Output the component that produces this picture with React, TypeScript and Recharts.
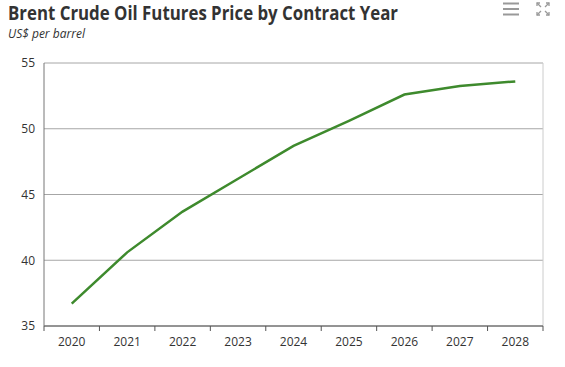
import React from 'react';
import { LineChart, Line, XAxis, YAxis, CartesianGrid } from 'recharts';

const years = ['2020', '2021', '2022', '2023', '2024', '2025', '2026', '2027', '2028'];
const prices = [36.7, 40.6, 43.7, 46.2, 48.7, 50.6, 52.6, 53.25, 53.6];
const yTicks = [35, 40, 45, 50, 55];

const data = years.map((y, i) => ({ year: y, price: prices[i] }));

const FONT = "'Open Sans', 'Noto Sans', sans-serif";
const CHART_W = 565;
const CHART_H = 367;
const MARGIN = { top: 63, right: 22, left: 0, bottom: 0 };
const Y_AXIS_W = 44;
const PLOT_W = CHART_W - MARGIN.left - MARGIN.right - Y_AXIS_W;
const TICK_LEN = 5;
const TICK_GAP = 6;

const XTick = (props: any) => {
  const { x, y, payload, index } = props;
  const bw = PLOT_W / years.length;
  const axisY = y - TICK_LEN - TICK_GAP;
  const isLast = index === years.length - 1;
  return (
    <g>
      <line x1={x - bw / 2} y1={axisY} x2={x - bw / 2} y2={axisY + TICK_LEN} stroke="#555" strokeWidth={1} />
      {isLast && (
        <line x1={x + bw / 2} y1={axisY} x2={x + bw / 2} y2={axisY + TICK_LEN} stroke="#555" strokeWidth={1} />
      )}
      <text x={x} y={y} dy="0.71em" textAnchor="middle" fill="#333" fontSize={12} fontFamily={FONT}>
        {payload.value}
      </text>
    </g>
  );
};

export default function App() {
  return (
    <div style={{ position: 'absolute', left: 0, top: 0, width: CHART_W, height: CHART_H, background: '#fff' }}>
      <LineChart width={CHART_W} height={CHART_H} data={data} margin={MARGIN}>
        <CartesianGrid horizontal={true} vertical={false} stroke="#a6a6a6" strokeWidth={1} />
        <CartesianGrid
          horizontal={false}
          vertical={true}
          stroke="#cccccc"
          strokeWidth={1}
          verticalCoordinatesGenerator={({ offset }: any) => [offset.left + offset.width]}
        />
        <XAxis
          dataKey="year"
          type="category"
          scale="band"
          height={41}
          interval={0}
          axisLine={{ stroke: '#555', strokeWidth: 1 }}
          tickLine={false}
          tickSize={TICK_LEN}
          tickMargin={TICK_GAP}
          tick={<XTick />}
        />
        <YAxis
          width={Y_AXIS_W}
          domain={[35, 55]}
          ticks={yTicks}
          interval={0}
          tickLine={false}
          tickSize={0}
          tickMargin={9}
          axisLine={{ stroke: '#777', strokeWidth: 1 }}
          tick={{ fill: '#333', fontSize: 12, fontFamily: FONT }}
        />
        <Line
          type="linear"
          dataKey="price"
          stroke="#3e8a2d"
          strokeWidth={2.5}
          dot={false}
          activeDot={false}
          isAnimationActive={false}
        />
      </LineChart>
      <svg width={565} height={45} style={{ position: 'absolute', left: 0, top: 0, pointerEvents: 'none' }}>
        <text x={8} y={20} fontFamily={FONT} fontWeight={700} fontSize={19} fill="#333" textLength={390} lengthAdjust="spacingAndGlyphs">
          Brent Crude Oil Futures Price by Contract Year
        </text>
        <text x={8} y={38} fontFamily={FONT} fontStyle="italic" fontSize={12} fill="#333" textLength={77} lengthAdjust="spacingAndGlyphs">
          US$ per barrel
        </text>
        <g stroke="#999" strokeWidth={2}>
          <line x1={503} y1={3.5} x2={519} y2={3.5} />
          <line x1={503} y1={9} x2={519} y2={9} />
          <line x1={503} y1={14.5} x2={519} y2={14.5} />
        </g>
        <g stroke="#999" strokeWidth={1.3} fill="none">
          <polyline points="537,6 537,3 540,3" />
          <line x1={537} y1={3} x2={541} y2={7} />
          <polyline points="546,3 549,3 549,6" />
          <line x1={549} y1={3} x2={545} y2={7} />
          <polyline points="537,12 537,15 540,15" />
          <line x1={537} y1={15} x2={541} y2={11} />
          <polyline points="546,15 549,15 549,12" />
          <line x1={549} y1={15} x2={545} y2={11} />
        </g>
      </svg>
    </div>
  );
}
